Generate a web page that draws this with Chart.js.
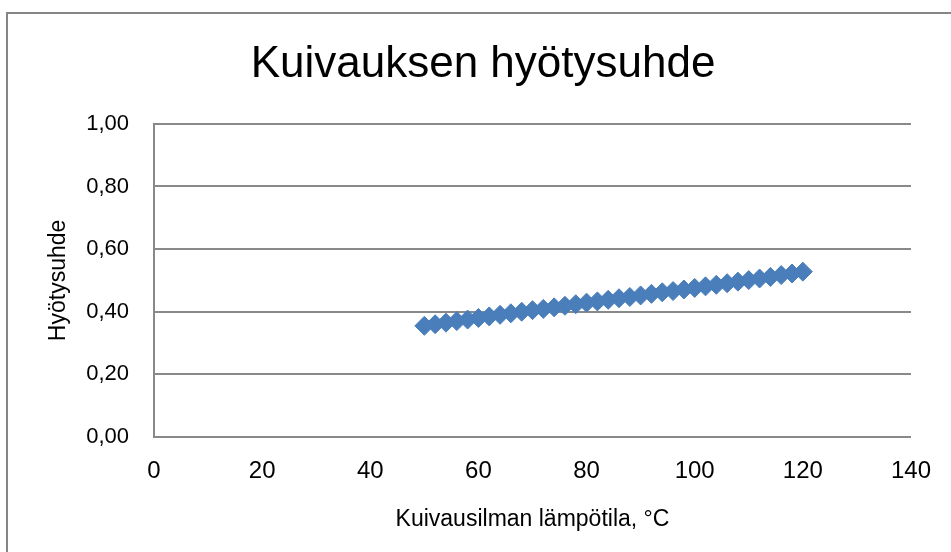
<!DOCTYPE html>
<html>
<head>
<meta charset="utf-8">
<script src="https://cdn.jsdelivr.net/npm/chart.js@4/dist/chart.umd.min.js"></script>
<style>
  html, body { margin: 0; padding: 0; background: #fff; }
  #wrap { width: 951px; height: 552px; position: relative; }
</style>
</head>
<body>
<div id="wrap"><canvas id="chart" width="951" height="552"></canvas></div>
<script>
// Kuivausilman lämpötila (°C) ja hyötysuhde
const temperatures = [50, 52, 54, 56, 58, 60, 62, 64, 66, 68, 70, 72, 74, 76, 78, 80, 82, 84,
    86, 88, 90, 92, 94, 96, 98, 100, 102, 104, 106, 108, 110, 112, 114, 116, 118, 120];
const efficiency = [0.355, 0.360, 0.365, 0.370, 0.375, 0.380, 0.385, 0.390, 0.395, 0.400,
    0.405, 0.409, 0.414, 0.419, 0.424, 0.429, 0.433, 0.438, 0.443, 0.447, 0.452, 0.457,
    0.462, 0.466, 0.471, 0.476, 0.481, 0.486, 0.491, 0.496, 0.501, 0.506, 0.511, 0.517,
    0.522, 0.528];
const xTicks = [0, 20, 40, 60, 80, 100, 120, 140];
const yTicks = [0, 0.2, 0.4, 0.6, 0.8, 1.0];

const chartTitle = 'Kuivauksen hyötysuhde';
const xTitle = 'Kuivausilman lämpötila, °C';
const yTitle = 'Hyötysuhde';

const points = temperatures.map((t, i) => ({ x: t, y: efficiency[i] }));
const gridGray = '#898989';
const fontName = "'Liberation Sans', Arial, sans-serif";

// kehys kaavion ympärille + otsikon siirto hieman oikealle
const framePlugin = {
    id: 'frame',
    afterLayout(chart) {
        chart.titleBlock.left += 44;
    },
    beforeDraw(chart) {
        const ctx = chart.ctx;
        ctx.save();
        ctx.strokeStyle = '#868686';
        ctx.lineWidth = 2;
        ctx.beginPath();
        ctx.moveTo(7, 560);
        ctx.lineTo(7, 13);
        ctx.lineTo(960, 13);
        ctx.stroke();
        ctx.restore();
    }
};

const ctx = document.getElementById('chart').getContext('2d');
const chart = new Chart(ctx, {
    type: 'scatter',
    data: {
        datasets: [{
            label: yTitle,
            data: points,
            pointStyle: 'rectRot',
            pointRadius: 9.5,
            pointBorderWidth: 1,
            backgroundColor: '#4a7ebb',
            borderColor: '#4a7ebb',
            showLine: false
        }]
    },
    options: {
        responsive: false,
        animation: false,
        layout: {
            padding: { left: 10, right: 39, top: 14, bottom: 0 }
        },
        plugins: {
            legend: { display: false },
            tooltip: { enabled: false },
            title: {
                display: true,
                text: chartTitle,
                color: '#000',
                font: { family: fontName, size: 44, weight: 'normal', lineHeight: 1.2 },
                padding: { top: 24, bottom: 33 }
            }
        },
        scales: {
            x: {
                type: 'linear',
                min: xTicks[0],
                max: xTicks[xTicks.length - 1],
                afterBuildTicks(scale) {
                    scale.ticks = xTicks.map(v => ({ value: v }));
                },
                afterFit(scale) {
                    scale.height = 552 - 437;
                },
                grid: { display: false, drawTicks: false },
                border: { display: true, color: gridGray, width: 2 },
                ticks: {
                    color: '#000',
                    padding: 20,
                    font: { family: fontName, size: 24 },
                    callback: v => String(v)
                },
                title: {
                    display: true,
                    text: xTitle,
                    color: '#000',
                    font: { family: fontName, size: 23 },
                    padding: { top: 0, bottom: 19 }
                }
            },
            y: {
                type: 'linear',
                min: yTicks[0],
                max: yTicks[yTicks.length - 1],
                afterBuildTicks(scale) {
                    scale.ticks = yTicks.map(v => ({ value: v }));
                },
                afterFit(scale) {
                    scale.width = 154 - 10;
                },
                grid: { color: gridGray, lineWidth: 2, drawTicks: false },
                border: { display: true, color: gridGray, width: 2 },
                ticks: {
                    color: '#000',
                    padding: 25,
                    font: { family: fontName, size: 22 },
                    callback: v => v.toFixed(2).replace('.', ',')
                },
                title: {
                    display: true,
                    text: yTitle,
                    color: '#000',
                    font: { family: fontName, size: 23 },
                    padding: { top: 35, bottom: 0 }
                }
            }
        }
    },
    plugins: [framePlugin]
});
</script>
</body>
</html>
